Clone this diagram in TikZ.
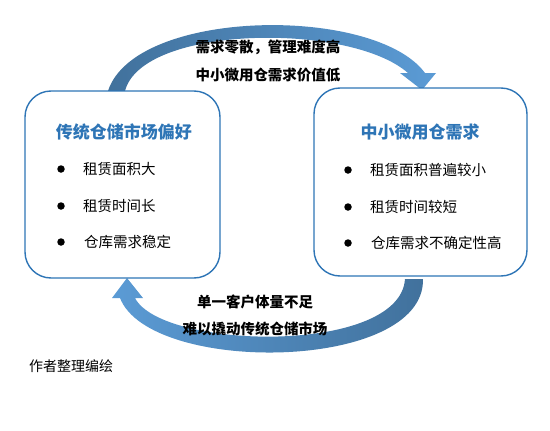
\documentclass[tikz,border=0pt]{standalone}
\usepackage{fontspec}
\setmainfont{Noto Sans CJK SC}
\usepackage{xcolor}
\definecolor{boxblue}{HTML}{2E75B6}
\definecolor{arrowdark}{HTML}{41719C}
\definecolor{arrowlight}{HTML}{5B9BD5}

\begin{document}
\begin{tikzpicture}[x=1pt, y=-1pt,
        box/.style={
        draw=boxblue, line width=1.4pt,
        rounded corners=26pt, fill=white},
        dot/.style={
        circle, fill=black,
        inner sep=0pt, minimum size=7.5pt},
        title/.style={
        text=boxblue, font=\fontsize{17}{20}\selectfont\bfseries},
        item/.style={
        anchor=west, inner sep=0pt,
        font=\fontsize{14.5}{17}\selectfont},
        note/.style={
        inner sep=0pt,
        font=\fontsize{14.5}{17}\selectfont\bfseries},
        ]

        \useasboundingbox (0,0) rectangle (550,431);

        \shade[left color=arrowdark, right color=arrowlight]
          (108,91) .. controls (135,8) and (375,5) .. (425,73)
          -- (436,73) -- (422,90) -- (400,73) -- (408,73)
          .. controls (350,22) and (142,25) .. (125,91) -- cycle;
        \shade[left color=arrowlight, right color=arrowdark]
          (423,279) .. controls (425,372) and (150,375) .. (120,298)
          -- (112,298) -- (127,278) -- (143,298) -- (135,298)
          .. controls (162,350) and (400,355) .. (405,279) -- cycle;

        \node (pref) [box, minimum width=195pt, minimum height=187pt] at (122.5,184.5){};
        \node (need) [box, minimum width=213pt, minimum height=188pt] at (420.5,182){};

        \node (t1) [title] at (124,132){传统仓储市场偏好};
        \node (t2) [title] at (420,132){中小微用仓需求};

        \node (p1) [dot] at (61,169){};
        \node (p2) [dot] at (61,206){};
        \node (p3) [dot] at (61,242){};
        \node (q1) [dot] at (348,170){};
        \node (q2) [dot] at (348,207){};
        \node (q3) [dot] at (348,243){};

        \node (a1) [item] at (83,169){租赁面积大};
        \node (a2) [item] at (83,206){租赁时间长};
        \node (a3) [item] at (84,242){仓库需求稳定};
        \node (c1) [item] at (370,170){租赁面积普遍较小};
        \node (c2) [item] at (370,207){租赁时间较短};
        \node (c3) [item] at (371,243){仓库需求不确定性高};

        \node (up1) [note] at (268,47){需求零散，管理难度高};
        \node (up2) [note] at (268,75){中小微用仓需求价值低};
        \node (lo1) [note] at (255,302){单一客户体量不足};
        \node (lo2) [note] at (255,329){难以撬动传统仓储市场};

        \node (src) [item, font=\fontsize{14}{17}\selectfont] at (29,366){作者整理编绘};
\end{tikzpicture}
\end{document}
